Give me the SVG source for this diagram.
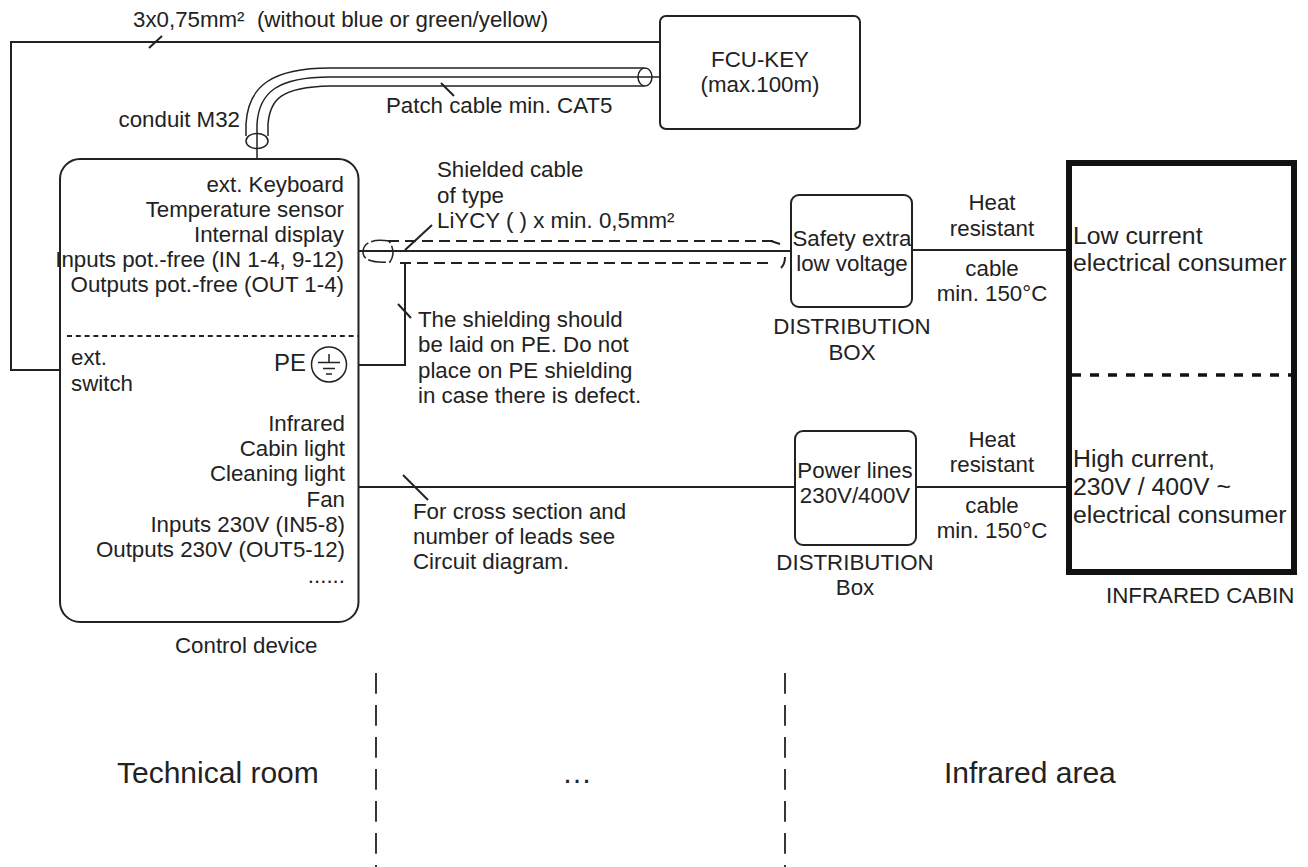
<svg xmlns="http://www.w3.org/2000/svg" width="1308" height="867" viewBox="0 0 1308 867">
<style>
text{font-family:"Liberation Sans",Arial,sans-serif;font-size:22.3px;fill:#222}
.e{text-anchor:end}.m{text-anchor:middle}
.l{fill:none;stroke:#222;stroke-width:2}
.t{fill:none;stroke:#222;stroke-width:1.5}
.b{fill:#fff;stroke:#222;stroke-width:2}
.big{font-size:30px}
.c{font-size:24.8px}
</style>
<rect width="1308" height="867" fill="#fff"/>
<g id="connectors">
<path class="l" d="M660 42H11V370H60"/>
<path class="l" d="M149 48L162 36"/>
<path class="t" d="M246 136V124C248 86 272 68 330 68H644"/>
<path class="t" d="M257 159V124C259 92 278 77 330 77H660"/>
<path class="t" d="M268 136V124C270 100 280 87 330 86H644"/>
<ellipse class="t" cx="645" cy="77" rx="7" ry="9"/>
<ellipse class="t" cx="257" cy="141" rx="11" ry="7.500"/>
<path class="l" d="M441 83L454 96"/>
<path class="l" d="M359 251H792"/>
<path class="l" d="M405 250L432 225"/>
<path d="M388 241H778" fill="none" stroke="#222" stroke-width="2" stroke-dasharray="11 6"/>
<path d="M400 263H770" fill="none" stroke="#222" stroke-width="2" stroke-dasharray="11 6"/>
<path class="l" d="M771 241L780 244M785 257C785 261 784 265 781 268"/>
<path d="M389 241C368 238 363 246 363 252C363 260 372 263 390 262C394 256 394 248 389 241Z" fill="none" stroke="#222" stroke-width="1.500" stroke-dasharray="18 3"/>
<path class="l" d="M405 263V365H347"/>
<path class="l" d="M398 304L411 318"/>
<path class="l" d="M359 487H795"/>
<path class="l" d="M403 475L428 500"/>
<path class="l" d="M912 250H1066M916 487H1066"/>
<path d="M376 673V867M785 673V867" fill="none" stroke="#222" stroke-width="1.800" stroke-dasharray="20.700 11.300"/>
</g>
<g id="control-device">
<rect class="b" x="60" y="159" width="298.500" height="463" rx="20"/>
<path d="M67 336H358" fill="none" stroke="#222" stroke-width="2" stroke-dasharray="5 3.800"/>
<text class="e" x="344" y="192">ext. Keyboard</text>
<text class="e" x="344" y="217">Temperature sensor</text>
<text class="e" x="344" y="242">Internal display</text>
<text class="e" x="344" y="267">Inputs pot.-free (IN 1-4, 9-12)</text>
<text class="e" x="344" y="292">Outputs pot.-free (OUT 1-4)</text>
<text x="71" y="365">ext.</text>
<text x="71" y="391">switch</text>
<text x="274" y="371" style="font-size:24px">PE</text>
<circle class="t" cx="329" cy="364.500" r="17.500"/>
<path class="t" d="M329 354V362.500M318 362.500H340M323 368.500H335M326 374H332"/>
<text class="e" x="345" y="431">Infrared</text>
<text class="e" x="345" y="456">Cabin light</text>
<text class="e" x="345" y="481">Cleaning light</text>
<text class="e" x="345" y="507">Fan</text>
<text class="e" x="345" y="532">Inputs 230V (IN5-8)</text>
<text class="e" x="345" y="557">Outputs 230V (OUT5-12)</text>
<text class="e" x="345" y="583">......</text>
<text x="175" y="653">Control device</text>
</g>
<g id="fcu-key">
<rect class="b" x="660" y="16" width="200" height="113" rx="6"/>
<text class="m" x="760" y="67">FCU-KEY</text>
<text class="m" x="760" y="92">(max.100m)</text>
</g>
<g id="distribution-sev">
<rect class="b" x="791" y="195" width="121" height="112" rx="8"/>
<text class="m" x="852" y="246">Safety extra</text>
<text class="m" x="852" y="271">low voltage</text>
<text class="m" x="852" y="334">DISTRIBUTION</text>
<text class="m" x="852" y="360">BOX</text>
</g>
<g id="distribution-power">
<rect class="b" x="795" y="431" width="121" height="114" rx="8"/>
<text class="m" x="855" y="478">Power lines</text>
<text class="m" x="855" y="503">230V/400V</text>
<text class="m" x="855" y="570">DISTRIBUTION</text>
<text class="m" x="855" y="595">Box</text>
</g>
<g id="infrared-cabin">
<rect x="1069" y="163" width="225" height="409" fill="#fff" stroke="#111" stroke-width="6"/>
<path d="M1072 375H1291" fill="none" stroke="#111" stroke-width="3.500" stroke-dasharray="9 9"/>
<text class="c" x="1073" y="244">Low current</text>
<text class="c" x="1073" y="271">electrical consumer</text>
<text class="c" x="1073" y="467">High current,</text>
<text class="c" x="1073" y="495">230V / 400V ~</text>
<text class="c" x="1073" y="523">electrical consumer</text>
<text x="1106" y="603">INFRARED CABIN</text>
</g>
<g id="labels">
<text x="133" y="27" xml:space="preserve">3x0,75mm²  (without blue or green/yellow)</text>
<text class="e" x="240" y="127">conduit M32</text>
<text x="386" y="113">Patch cable min. CAT5</text>
<text x="437" y="177">Shielded cable</text>
<text x="437" y="203">of type</text>
<text x="437" y="228">LiYCY ( ) x min. 0,5mm²</text>
<text x="418" y="327">The shielding should</text>
<text x="418" y="352">be laid on PE. Do not</text>
<text x="418" y="378">place on PE shielding</text>
<text x="418" y="403">in case there is defect.</text>
<text x="413" y="519">For cross section and</text>
<text x="413" y="544">number of leads see</text>
<text x="413" y="569">Circuit diagram.</text>
<text class="m" x="992" y="210">Heat</text>
<text class="m" x="992" y="236">resistant</text>
<text class="m" x="992" y="276">cable</text>
<text class="m" x="992" y="301">min. 150°C</text>
<text class="m" x="992" y="447">Heat</text>
<text class="m" x="992" y="472">resistant</text>
<text class="m" x="992" y="513">cable</text>
<text class="m" x="992" y="538">min. 150°C</text>
<text class="big" x="117" y="783">Technical room</text>
<text class="big" x="562" y="783">…</text>
<text class="big" x="944" y="783">Infrared area</text>
</g>
</svg>
